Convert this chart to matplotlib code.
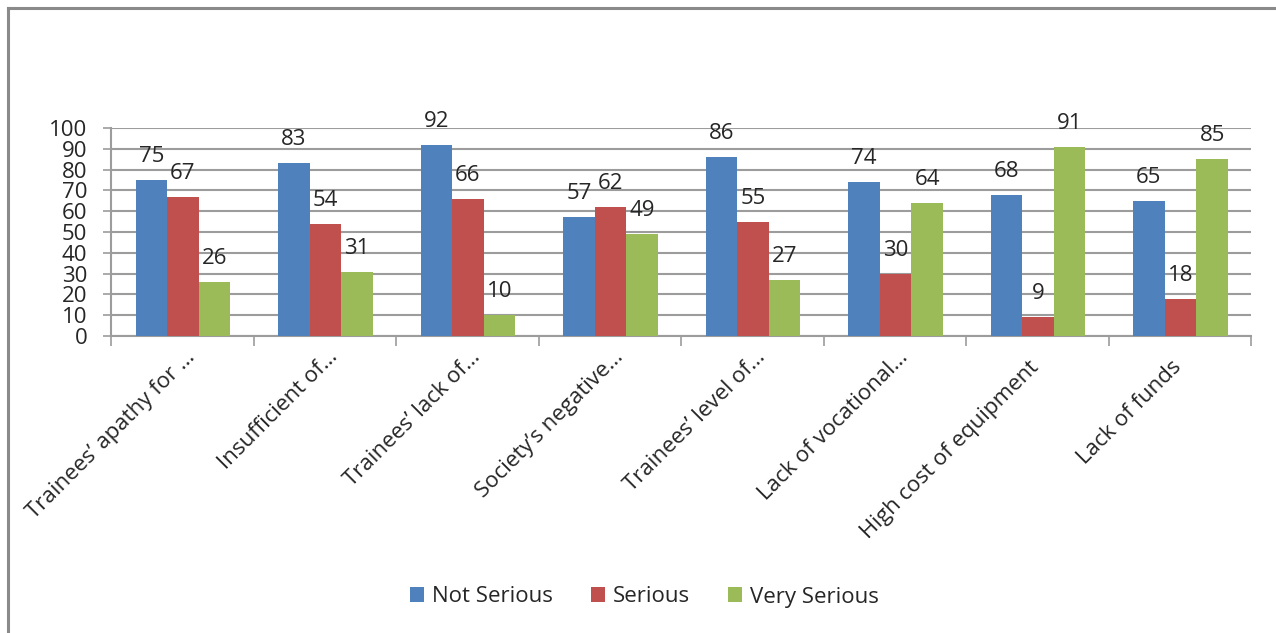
import matplotlib
matplotlib.use("Agg")
import matplotlib.pyplot as plt
from matplotlib.patches import Patch
from matplotlib.lines import Line2D
import numpy as np

categories = [
    "Trainees\u2019 apathy for \u2026",
    "Insufficient of\u2026",
    "Trainees\u2019 lack of\u2026",
    "Society\u2019s negative\u2026",
    "Trainees\u2019 level of\u2026",
    "Lack of vocational\u2026",
    "High cost of equipment",
    "Lack of funds",
]
not_serious = [75, 83, 92, 57, 86, 74, 68, 65]
serious = [67, 54, 66, 62, 55, 30, 9, 18]
very_serious = [26, 31, 10, 49, 27, 64, 91, 85]
series_names = ["Not Serious", "Serious", "Very Serious"]
y_ticks = list(range(0, 101, 10))

colors = ["#4F81BD", "#C0504D", "#9BBB59"]
grid_color = "#9c9c9c"
text_color = "#262626"

plt.rcParams["font.family"] = ["Open Sans", "DejaVu Sans"]

fig = plt.figure(figsize=(12.76, 6.33), dpi=100)
ax = fig.add_axes([111 / 1276, 1 - 336 / 633, 1140 / 1276, 208 / 633])

x = np.arange(len(categories))
width = 0.222
offsets = [-width, 0.0, width]
for vals, off, col in zip([not_serious, serious, very_serious], offsets, colors):
    bars = ax.bar(x + off + 0.005, vals, width, color=col, zorder=3, linewidth=0)
    for b, v in zip(bars, vals):
        ax.annotate(str(v), (b.get_x() + b.get_width() / 2, v),
                    xytext=(0, 18), textcoords="offset pixels",
                    ha="center", va="baseline", fontsize=16, color=text_color,
                    zorder=4)

ax.set_xlim(-0.5, len(categories) - 0.5)
ax.set_ylim(0, 100)
ax.set_yticks(y_ticks)
ax.set_yticklabels([str(t) for t in y_ticks])
ax.yaxis.grid(True, color=grid_color, linewidth=1.5, zorder=0)
ax.set_axisbelow(True)

ax.set_xticks(np.arange(len(categories) + 1) - 0.5)
ax.set_xticklabels([])
ax.tick_params(axis="x", length=7, width=1.2, color=grid_color, direction="out")
ax.tick_params(axis="y", length=6, width=1.2, color=grid_color, direction="out",
               labelsize=16, labelcolor=text_color, pad=11)

for s in ["top", "right"]:
    ax.spines[s].set_visible(False)
for s in ["left", "bottom"]:
    ax.spines[s].set_color(grid_color)
    ax.spines[s].set_linewidth(1.5)

# rotated category labels; truncated names sit a little further along the slant
for i, name in enumerate(categories):
    off = (10, -18) if name.endswith("\u2026") else (-1, -28)
    ax.annotate(name, (i, 0), xycoords=("data", "axes fraction"),
                xytext=off, textcoords="offset pixels",
                rotation=45, rotation_mode="anchor", ha="right", va="center",
                fontsize=16, color=text_color)

handles = [Patch(facecolor=c, edgecolor="none") for c in colors]
fig.legend(handles, series_names, loc="center", bbox_to_anchor=(0.505, 1 - 597 / 633),
           ncol=3, frameon=False, fontsize=16, handlelength=0.65, handleheight=0.65,
           handletextpad=0.35, columnspacing=1.7, labelcolor=text_color)

# outer chart frame (top and left edges)
fig.add_artist(Line2D([8 / 1276, 1], [1 - 8 / 633, 1 - 8 / 633],
                      transform=fig.transFigure, color="#8a8a8a", linewidth=2.2))
fig.add_artist(Line2D([8 / 1276, 8 / 1276], [0, 1 - 8 / 633],
                      transform=fig.transFigure, color="#8a8a8a", linewidth=2.2))

fig.savefig("out.png", dpi=100, facecolor="white")
